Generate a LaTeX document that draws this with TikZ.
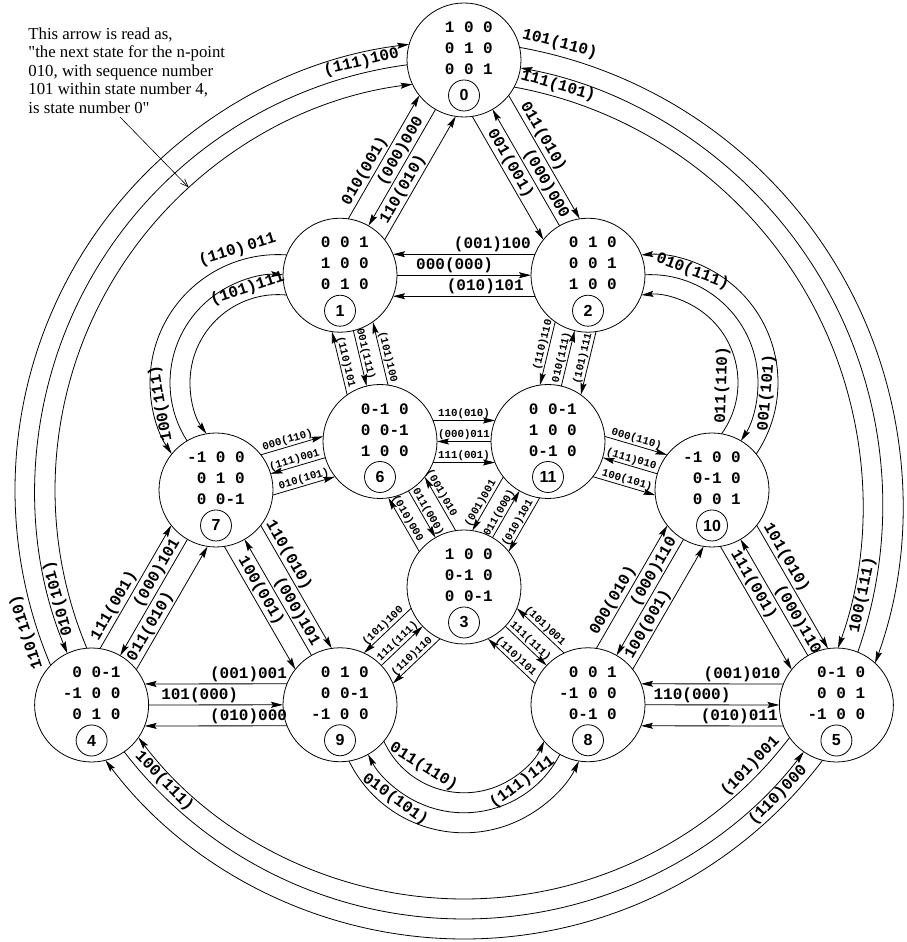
\documentclass[tikz,border=0pt]{standalone}
\usepackage{fontspec}
\setmainfont{Liberation Serif}
\newfontfamily\notefont{Liberation Serif}[Ligatures=TeXOff]
\newfontfamily\monof{Liberation Mono}
\newfontfamily\numf{Liberation Sans}
\usetikzlibrary{calc,arrows.meta}
\newcounter{lc}
\newcommand\s{\phantom{0}}
% straight connector: #1 A, #2 B, #3 offset, #4 along, #5 arrow, #6 pos, #7 label style, #8 text
\newcommand\pl[8]{\stepcounter{lc}%
  \draw[#5] ($($(#1)!#4pt!(#2)$)!#3pt!90:(#2)$) -- node[#7,sloped,above,pos=#6] (L\arabic{lc}) {#8} ($($(#2)!#4pt!(#1)$)!#3pt!-90:(#1)$);}
\begin{document}
\begin{tikzpicture}[x=1pt,y=1pt,line width=0.8pt,
  >={Stealth[length=12pt,width=6pt,inset=2pt]},
  state/.style={circle,draw,minimum size=114pt,inner sep=0pt},
  mat/.style={align=center,inner sep=0pt,font=\monof\bfseries\fontsize{16}{21}\selectfont},
  numc/.style={circle,draw,minimum size=31pt,inner sep=0pt,font=\numf\bfseries\fontsize{16}{16}\selectfont},
  lab/.style={inner sep=1.5pt,font=\monof\bfseries\fontsize{16}{16}\selectfont},
  slab/.style={inner sep=1pt,font=\monof\bfseries\fontsize{10.8}{11}\selectfont}]
\useasboundingbox (0,0) rectangle (907,942);
\coordinate (c) at (464,452);
\coordinate (cr) at ($(c)+(210:30)$);
% states
\node[state] (n0) at ($(c)+(90:430)$) {};
\node[state] (n4) at ($(c)+(210:430)$) {};
\node[state] (n5) at ($(c)+(330:430)$) {};
\node[state] (n1) at ($(c)+(120:248)$) {};
\node[state] (n2) at ($(c)+(60:248)$) {};
\node[state] (n10) at ($(c)+(0:248)$) {};
\node[state] (n8) at ($(c)+(300:248)$) {};
\node[state] (n9) at ($(c)+(240:248)$) {};
\node[state] (n7) at ($(c)+(180:248)$) {};
\node[state] (n6) at ($(c)+(150:97)$) {};
\node[state] (n11) at ($(c)+(30:97)$) {};
\node[state] (n3) at ($(c)+(270:97)$) {};
% contents
\foreach \n/\a/\b/\cc/\k in {
  n0/\s1\s0\s0/\s0\s1\s0/\s0\s0\s1/0,
  n1/\s0\s0\s1/\s1\s0\s0/\s0\s1\s0/1,
  n2/\s0\s1\s0/\s0\s0\s1/\s1\s0\s0/2,
  n3/\s1\s0\s0/\s0-1\s0/\s0\s0-1/3,
  n4/\s0\s0-1/-1\s0\s0/\s0\s1\s0/4,
  n5/\s0-1\s0/\s0\s0\s1/-1\s0\s0/5,
  n6/\s0-1\s0/\s0\s0-1/\s1\s0\s0/6,
  n7/-1\s0\s0/\s0\s1\s0/\s0\s0-1/7,
  n8/\s0\s0\s1/-1\s0\s0/\s0-1\s0/8,
  n9/\s0\s1\s0/\s0\s0-1/-1\s0\s0/9,
  n10/-1\s0\s0/\s0-1\s0/\s0\s0\s1/10,
  n11/\s0\s0-1/\s1\s0\s0/\s0-1\s0/11}{
  \node[mat] (\n m) at ($(\n)+(0,11.5)$) {\a\\\b\\\cc};
  \node[numc] (\n k) at ($(\n)+(0,-35.5)$) {\k};
}
% 0-1
\pl{n1}{n0}{21}{53}{->}{0.35}{lab}{010(001)}
\pl{n1}{n0}{0}{57}{<-}{0.6}{lab}{(000)000}
\pl{n1}{n0}{-21}{53}{->}{0.37}{lab}{110(010)}
% 0-2
\pl{n0}{n2}{-21}{53}{->}{0.42}{lab}{001(001)}
\pl{n0}{n2}{0}{57}{<-}{0.68}{lab}{(000)000}
\pl{n0}{n2}{21}{53}{->}{0.37}{lab}{011(010)}
% 1-2
\pl{n1}{n2}{21}{53}{<-}{0.70}{lab}{(001)100}
\pl{n1}{n2}{0}{57}{->}{0.43}{lab}{000(000)}
\pl{n1}{n2}{-21}{53}{<-}{0.65}{lab}{(010)101}
% 1-6
\pl{n1}{n6}{-21}{53}{<-}{0.5}{slab}{(110)101}
\pl{n1}{n6}{0}{57}{->}{0.45}{slab}{001(111)}
\pl{n1}{n6}{21}{53}{<-}{0.58}{slab}{(101)100}
% 2-11
\pl{n2}{n11}{-21}{53}{->}{0.39}{slab}{(110)110}
\pl{n2}{n11}{0}{57}{<-}{0.51}{slab}{010(111)}
\pl{n2}{n11}{21}{53}{->}{0.45}{slab}{(101)111}
% 6-11
\pl{n6}{n11}{21}{53}{->}{0.5}{slab}{110(010)}
\pl{n6}{n11}{0}{57}{<-}{0.5}{slab}{(000)011}
\pl{n6}{n11}{-21}{53}{->}{0.5}{slab}{111(001)}
% 7-6
\pl{n7}{n6}{21}{53}{->}{0.46}{slab}{000(110)}
\pl{n7}{n6}{0}{57}{<-}{0.47}{slab}{(111)001}
\pl{n7}{n6}{-21}{53}{->}{0.53}{slab}{010(101)}
% 11-10
\pl{n11}{n10}{21}{53}{->}{0.48}{slab}{000(110)}
\pl{n11}{n10}{0}{57}{<-}{0.49}{slab}{(111)010}
\pl{n11}{n10}{-21}{53}{->}{0.52}{slab}{100(101)}
% 6-3
\pl{n6}{n3}{-21}{53}{<-}{0.44}{slab}{(010)000}
\pl{n6}{n3}{0}{57}{->}{0.52}{slab}{011(000)}
\pl{n6}{n3}{21}{53}{<-}{0.36}{slab}{(001)010}
% 11-3
\pl{n11}{n3}{-21}{53}{->}{0.55}{slab}{(001)001}
\pl{n11}{n3}{0}{57}{<-}{0.54}{slab}{011(000)}
\pl{n11}{n3}{21}{53}{->}{0.53}{slab}{(010)101}
% 9-3
\pl{n9}{n3}{21}{53}{<-}{0.5}{slab}{(101)100}
\pl{n9}{n3}{0}{57}{->}{0.5}{slab}{111(111)}
\pl{n9}{n3}{-21}{53}{<-}{0.5}{slab}{(110)110}
% 3-8
\pl{n3}{n8}{21}{53}{<-}{0.5}{slab}{(101)001}
\pl{n3}{n8}{0}{57}{->}{0.5}{slab}{111(111)}
\pl{n3}{n8}{-21}{53}{<-}{0.5}{slab}{(110)101}
% 7-9
\pl{n7}{n9}{-21}{53}{->}{0.40}{lab}{100(001)}
\pl{n7}{n9}{0}{57}{<-}{0.66}{lab}{(000)101}
\pl{n7}{n9}{21}{53}{->}{0.28}{lab}{110(010)}
% 4-7
\pl{n4}{n7}{21}{53}{->}{0.31}{lab}{111(001)}
\pl{n4}{n7}{0}{57}{<-}{0.67}{lab}{(000)101}
\pl{n4}{n7}{-21}{53}{->}{0.31}{lab}{011(010)}
% 4-9
\pl{n4}{n9}{21}{53}{<-}{0.73}{lab}{(001)001}
\pl{n4}{n9}{0}{57}{->}{0.38}{lab}{101(000)}
\pl{n4}{n9}{-21}{53}{<-}{0.73}{lab}{(010)000}
% 8-5
\pl{n8}{n5}{21}{53}{<-}{0.71}{lab}{(001)010}
\pl{n8}{n5}{0}{57}{->}{0.35}{lab}{110(000)}
\pl{n8}{n5}{-21}{53}{<-}{0.69}{lab}{(010)011}
% 8-10
\pl{n8}{n10}{21}{53}{->}{0.35}{lab}{000(010)}
\pl{n8}{n10}{0}{57}{<-}{0.68}{lab}{(000)110}
\pl{n8}{n10}{-21}{53}{->}{0.33}{lab}{100(001)}
% 10-5
\pl{n10}{n5}{-21}{53}{->}{0.35}{lab}{111(001)}
\pl{n10}{n5}{0}{57}{<-}{0.73}{lab}{(000)110}
\pl{n10}{n5}{21}{53}{->}{0.30}{lab}{101(010)}
% arc centres
\coordinate (m17) at ($(n1)!0.5!(n7)$);
\coordinate (m210) at ($(n2)!0.5!(n10)$);
\coordinate (m98) at ($(n9)!0.5!(n8)$);
% 1-7 arcs
\draw[->] ($(m17)+(86.1:128)$) arc[start angle=86.1,end angle=213.9,radius=128];
\draw[->] ($(m17)+(212.7:108)$) arc[start angle=212.7,end angle=87.3,radius=108];
\draw[->] ($(m17)+(84.4:88)$) arc[start angle=84.4,end angle=215.6,radius=88];
\node[lab,rotate=17] (a17o) at ($(m17)+(107:139)$) {(110)\kern3pt011};
\node[lab,rotate=100] (a17m) at ($(m17)+(190:119)$) {100(111)};
\node[lab,rotate=18] (a17i) at ($(m17)+(108:99)$) {(101)111};
% 2-10 arcs
\draw[->] ($(m210)+(-33.9:128)$) arc[start angle=-33.9,end angle=93.9,radius=128];
\draw[->] ($(m210)+(92.7:108)$) arc[start angle=92.7,end angle=-32.7,radius=108];
\draw[->] ($(m210)+(-35.6:88)$) arc[start angle=-35.6,end angle=95.6,radius=88];
\node[lab,rotate=-21] (a210m) at ($(m210)+(69:119)$) {010(111)};
\node[lab,rotate=88] (a210i) at ($(m210)+(-2:72)$) {011(110)};
\node[lab,rotate=85] (a210o) at ($(m210)+(-5:117)$) {001(101)};
% 9-8 arcs
\draw[->] ($(m98)+(204.4:88)$) arc[start angle=204.4,end angle=335.6,radius=88];
\draw[->] ($(m98)+(332.7:108)$) arc[start angle=332.7,end angle=207.3,radius=108];
\draw[->] ($(m98)+(206.1:128)$) arc[start angle=206.1,end angle=333.9,radius=128];
\node[lab,rotate=-32] (a98i) at ($(m98)+(237:74)$) {011(110)};
\node[lab,rotate=37] (a98m) at ($(m98)+(307:97)$) {(111)111};
\node[lab,rotate=-36] (a98o) at ($(m98)+(234:117)$) {010(101)};
% 4-0 arcs
\draw[->] ($(c)+(202.76:409)$) arc[start angle=202.76,end angle=97.24,radius=409];
\draw[->] ($(c)+(97.61:429)$) arc[start angle=97.61,end angle=202.39,radius=429];
\draw[->] ($(c)+(202.99:449)$) arc[start angle=202.99,end angle=97.01,radius=449];
\node[lab,rotate=105] (a40i) at ($(c)+(195:420)$) {010(101)};
\node[lab,rotate=13.5] (a40m) at ($(c)+(103.5:440)$) {(111)100};
\node[lab,rotate=108] (a40o) at ($(c)+(198:460)$) {110(110)};
% 0-5 arcs
\draw[->] ($(cr)+(79.68:424.8)$) arc[start angle=79.68,end angle=-19.68,radius=424.8];
\draw[->] ($(cr)+(-19.32:444.8)$) arc[start angle=-19.32,end angle=79.32,radius=444.8];
\draw[->] ($(cr)+(79.89:464.8)$) arc[start angle=79.89,end angle=-19.89,radius=464.8];
\node[lab,rotate=-14.8] (a05o) at ($(cr)+(75.2:477)$) {101(110)};
\node[lab,rotate=78] (a05m) at ($(cr)+(-12:434)$) {100(111)};
\node[lab,rotate=-16] (a05i) at ($(cr)+(74:436)$) {111(101)};
% 4-5 arcs
\draw[->] ($(c)+(322.76:409)$) arc[start angle=322.76,end angle=217.24,radius=409];
\draw[->] ($(c)+(217.61:429)$) arc[start angle=217.61,end angle=322.39,radius=429];
\draw[->] ($(c)+(322.99:449)$) arc[start angle=322.99,end angle=217.01,radius=449];
\node[lab,rotate=46] (a45i) at ($(c)+(316:398)$) {(101)001};
\node[lab,rotate=-46] (a45m) at ($(c)+(224.2:418)$) {100(111)};
\node[lab,rotate=46] (a45o) at ($(c)+(315.8:438)$) {(110)000};
% annotation
\node[anchor=north west,align=left,inner sep=0pt,font=\notefont\fontsize{16.8}{18.5}\selectfont] (note) at (28,915)
  {This arrow is read as,\\"the next state for the n-point\\010, with sequence number\\101 within state number 4,\\is state number 0"};
\coordinate (ptrs) at (120,825);
\coordinate (ptre) at ($(c)+(132.3:409)$);
\draw[line width=0.6pt,-{Straight Barb[length=8pt,width=6pt]}] (ptrs) -- (ptre);
\end{tikzpicture}
\end{document}
